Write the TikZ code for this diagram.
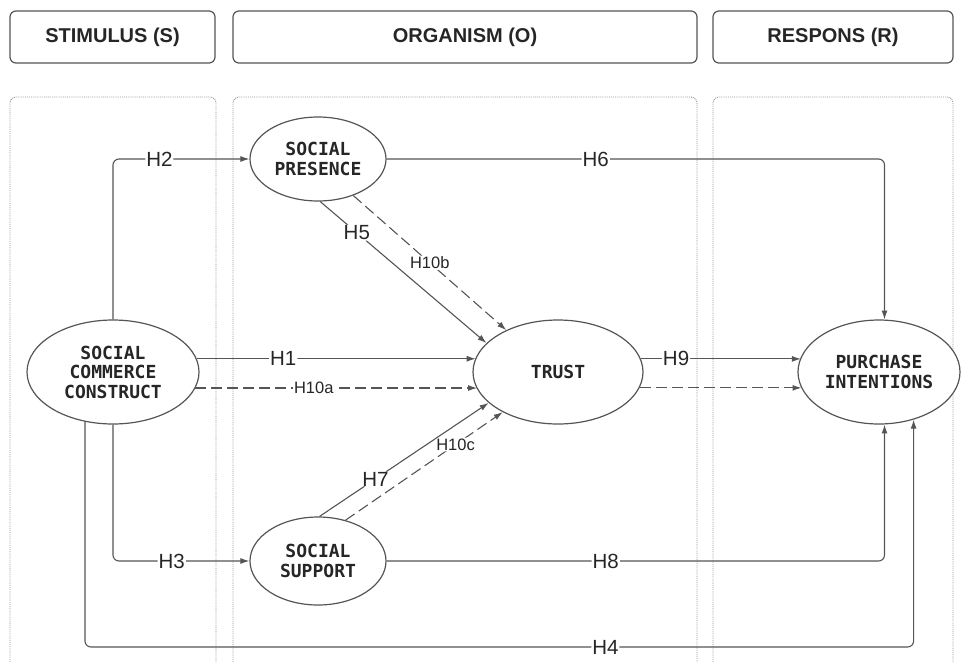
\documentclass[tikz,border=0pt]{standalone}
\usepackage{fontspec}
\setmainfont{Liberation Sans}
\newfontfamily\monob{DejaVu Sans Mono}
\usetikzlibrary{shapes.geometric,arrows.meta,backgrounds}
\definecolor{linec}{HTML}{555555}
\definecolor{txt}{HTML}{262626}
\definecolor{panelc}{HTML}{959595}
\begin{document}
\begin{tikzpicture}[x=1pt,y=-1pt,
  hdr/.style={draw=linec, rounded corners=6pt, line width=1.2pt, minimum width=#1,
    minimum height=52pt, font=\fontsize{20}{24}\selectfont\bfseries, text=txt, inner sep=0pt},
  panel/.style={draw=panelc, densely dotted, line width=0.9pt, rounded corners=6pt},
  cons/.style={ellipse, draw=linec, line width=1.2pt, fill=white, inner sep=0pt, align=center,
    text=txt, font=\monob\bfseries\fontsize{18}{19.5}\selectfont},
  conn/.style={draw=linec, line width=1.1pt, rounded corners=6pt, -{Latex[length=9pt,width=6pt]}},
  dconn/.style={conn, dash pattern=on 11pt off 5pt},
  hl/.style={fill=white, inner sep=1pt, text=txt, font=\fontsize{20.5}{22}\selectfont},
  hs/.style={fill=white, inner sep=1pt, text=txt, font=\fontsize{16.5}{18}\selectfont}
]
\useasboundingbox (0,0) rectangle (961,662);

% panels
\begin{scope}[on background layer]
  \draw[panel] (10,662) -- (10,97) -- (216,97) -- (216,662);
  \draw[panel] (233,662) -- (233,97) -- (697,97) -- (697,662);
  \draw[panel] (713,662) -- (713,97) -- (953,97) -- (953,662);
\end{scope}

% headers
\node[hdr=205pt] (hS) at (112.5,37) {STIMULUS (S)};
\node[hdr=464pt] (hO) at (465,37) {ORGANISM (O)};
\node[hdr=240pt] (hR) at (833,37) {RESPONS (R)};

% constructs
\node[cons, minimum width=172pt, minimum height=104pt] (scc) at (113,372) {SOCIAL\\COMMERCE\\CONSTRUCT};
\node[cons, minimum width=136pt, minimum height=84pt] (sp) at (318,159) {SOCIAL\\PRESENCE};
\node[cons, minimum width=170pt, minimum height=104pt] (tr) at (558,372) {TRUST};
\node[cons, minimum width=136pt, minimum height=88pt] (ss) at (318,561) {SOCIAL\\SUPPORT};
\node[cons, minimum width=162pt, minimum height=104pt] (pi) at (879,372) {PURCHASE\\INTENTIONS};

\coordinate (h4s) at (85,372);
\coordinate (h4b) at (85,647);

\begin{scope}[on background layer]
  \draw[conn] (scc.north) |- node[hl, pos=0.67] {H2} (sp.west);
  \draw[conn] (scc.south) |- node[hl, pos=0.715] {H3} (ss.west);
  \draw[conn] (h4s) -- (h4b) -| node[hl, pos=0.314] {H4} (pi.-54.2);
  \draw[conn] (sp.east) -| node[hl, pos=0.21] {H6} (pi.84);
  \draw[conn] (ss.east) -| node[hl, pos=0.22] {H8} (pi.-84);
  \draw[conn] (scc.9.6) -- node[hl, pos=0.31] {H1} (scc.9.6 -| tr.170.3);
  \draw[dconn] (scc.-11.8) -- node[hs, pos=0.42] {H10a} (scc.-11.8 -| tr.-168);
  \draw[conn] (tr.9.7) -- node[hl, pos=0.22] {H9} (tr.9.7 -| pi.169.8);
  \draw[dconn] (tr.-11.2) -- (tr.-11.2 -| pi.-168.3);
  \draw[conn] (sp.-87.4) -- node[hl, pos=0.22] {H5} (tr.158);
  \draw[dconn] (sp.-46.4) -- node[hs, pos=0.5] {H10b} (tr.141);
  \draw[conn] (ss.88) -- node[hl, pos=0.33] {H7} (tr.204);
  \draw[dconn] (ss.56) -- node[hs, pos=0.7] {H10c} (tr.216.5);
\end{scope}
\end{tikzpicture}
\end{document}
